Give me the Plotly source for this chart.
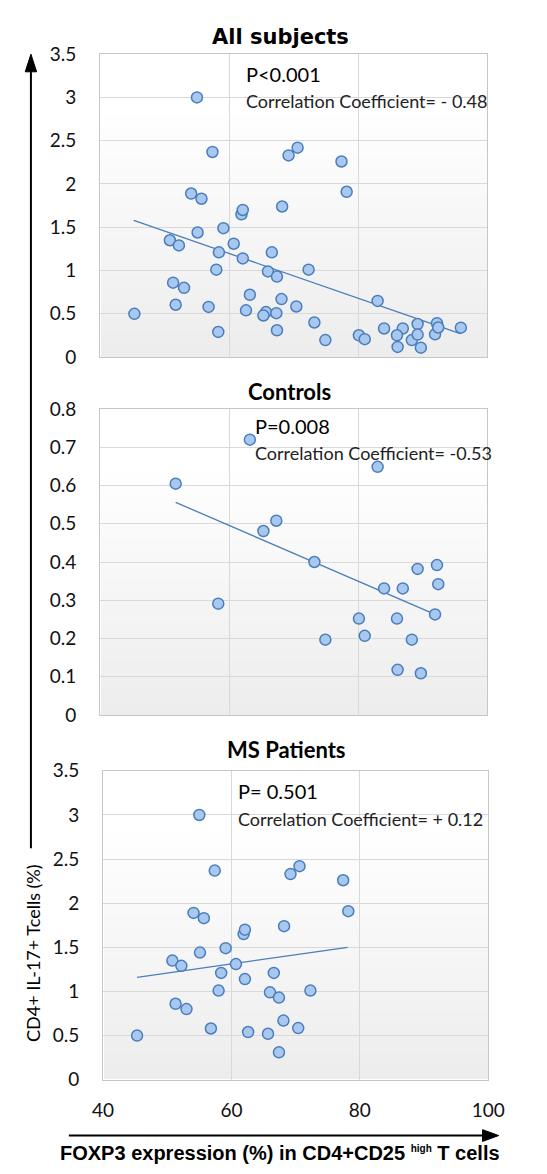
import plotly.graph_objects as go

W, H = 547, 1174

# ---------------- data ----------------
ms_x = [45.3, 55.0, 57.4, 54.1, 55.7, 55.1, 50.8, 52.2, 59.1, 58.4, 58.0, 51.3, 53.0, 56.8,
        60.7, 61.9, 62.1, 62.1, 62.6, 65.7, 66.0, 66.6, 67.4, 67.4, 68.1, 68.2, 69.2, 70.6,
        70.4, 72.3, 77.4, 78.2]
ms_y = [0.50, 3.00, 2.37, 1.89, 1.83, 1.44, 1.35, 1.29, 1.49, 1.21, 1.01, 0.86, 0.80, 0.58,
        1.31, 1.65, 1.70, 1.14, 0.54, 0.52, 0.99, 1.21, 0.93, 0.31, 0.67, 1.74, 2.33, 2.42,
        0.585, 1.01, 2.26, 1.91]

ctrl_x = [51.7, 58.3, 63.2, 65.3, 67.3, 73.2, 74.9, 80.1, 81.0, 83.0, 84.0, 86.9, 86.0, 86.1,
          89.2, 88.3, 89.7, 91.9, 92.2, 92.4]
ctrl_y = [0.605, 0.291, 0.72, 0.481, 0.508, 0.40, 0.197, 0.252, 0.207, 0.649, 0.331, 0.331,
          0.252, 0.118, 0.382, 0.197, 0.109, 0.263, 0.392, 0.342]

# points visible only in the "All subjects" panel
extra_x = [89.2, 95.9]
extra_y = [0.26, 0.34]

all_x = ms_x + ctrl_x + extra_x
all_y = ms_y + ctrl_y + extra_y

# trend lines (end points)
trend_all_x = [45.2, 95.8]
trend_all_y = [1.58, 0.27]
trend_ctrl_x = [51.7, 91.9]
trend_ctrl_y = [0.556, 0.263]
trend_ms_x = [45.3, 78.1]
trend_ms_y = [1.16, 1.50]

titles = ["All subjects", "Controls", "MS Patients"]
p_texts = ["P<0.001", "P=0.008", "P= 0.501"]
r_texts = ["Correlation Coefficient= - 0.48", "Correlation Coefficient= -0.53",
           "Correlation Coefficient= + 0.12"]
x_ticks = [40, 60, 80, 100]
y_title = "CD4+ IL-17+ Tcells (%)"
x_title = ("FOXP3 expression (%) in CD4+CD25 "
           "<sup><span style='font-size:10px'>high</span></sup> T cells")

# ---------------- styling ----------------
FILL = "#a9c8ef"
EDGE = "#4a7ebb"
GRID = "#d9d9d9"
CAL = "Lato, 'Open Sans', sans-serif"


def px(x):
    return x / W


def py(y):
    return 1 - y / H


fig = go.Figure()

panels = [
    (all_x, all_y, trend_all_x, trend_all_y, "x", "y"),
    (ctrl_x, ctrl_y, trend_ctrl_x, trend_ctrl_y, "x2", "y2"),
    (ms_x, ms_y, trend_ms_x, trend_ms_y, "x3", "y3"),
]

for xs, ys, tx, ty, xa, ya in panels:
    fig.add_trace(go.Scatter(x=tx, y=ty, mode="lines", xaxis=xa, yaxis=ya,
                             line=dict(color=EDGE, width=1.3), hoverinfo="skip",
                             showlegend=False))
    fig.add_trace(go.Scatter(x=xs, y=ys, mode="markers", xaxis=xa, yaxis=ya,
                             marker=dict(size=11, color=FILL,
                                         line=dict(color=EDGE, width=1.5)),
                             showlegend=False))

# axis geometry (pixels)
geo = {
    "1": dict(x0=94, x1=502, y0=43, y1=352, yr=[0, 3.5], dt=0.5),
    "2": dict(x0=94, x1=502, y0=405, y1=717, yr=[0, 0.8], dt=0.1),
    "3": dict(x0=97, x1=503, y0=774, y1=1089, yr=[0, 3.5], dt=0.5),
}

layout = dict(width=W, height=H, margin=dict(l=0, r=0, t=0, b=0), autosize=False,
              paper_bgcolor="white", plot_bgcolor="white", showlegend=False)

tickfont = dict(family=CAL, size=19, color="#111111")
for k, g in geo.items():
    sx = "" if k == "1" else k
    layout["xaxis" + sx] = dict(
        domain=[px(g["x0"]), px(g["x1"])], range=[40, 100], tickvals=x_ticks,
        showgrid=True, gridcolor=GRID, gridwidth=1, zeroline=False,
        showline=True, linecolor="#c6c6c6", linewidth=1, mirror=True,
        ticks="", showticklabels=(k == "3"), tickfont=tickfont,
        ticklabelstandoff=14, anchor="y" + sx, fixedrange=True)
    layout["yaxis" + sx] = dict(
        domain=[py(g["y1"]), py(g["y0"])], range=g["yr"], dtick=g["dt"], tick0=0,
        showgrid=True, gridcolor=GRID, gridwidth=1, zeroline=False,
        showline=True, linecolor="#c6c6c6", linewidth=1, mirror=True,
        ticks="", tickfont=tickfont, ticklabelstandoff=19, anchor="x" + sx,
        fixedrange=True)

fig.update_layout(**layout)

# soft vertical gradient in each plot area
shapes = []
for k in ["", "2", "3"]:
    n = 18
    for i in range(1, n + 1):
        shapes.append(dict(type="rect", xref=f"x{k} domain", yref=f"y{k} domain",
                           x0=0, x1=1, y0=0, y1=0.8 * i / n, layer="below",
                           line=dict(width=0), fillcolor="rgba(0,0,0,0.0038)"))

# axis arrows (decoration, in paper coordinates)
shapes.append(dict(type="line", xref="paper", yref="paper", x0=px(21), x1=px(21),
                   y0=py(853), y1=py(58), line=dict(color="#000", width=2)))
shapes.append(dict(type="path", xref="paper", yref="paper",
                   path=f"M {px(21)} {py(43)} L {px(15)} {py(61)} L {px(27)} {py(61)} Z",
                   fillcolor="#000", line=dict(color="#000", width=1)))
shapes.append(dict(type="line", xref="paper", yref="paper", x0=px(61), x1=px(500),
                   y0=py(1146), y1=py(1146), line=dict(color="#000", width=2)))
shapes.append(dict(type="path", xref="paper", yref="paper",
                   path=f"M {px(514)} {py(1146)} L {px(497)} {py(1140)} L {px(497)} {py(1152)} Z",
                   fillcolor="#000", line=dict(color="#000", width=1)))
fig.update_layout(shapes=shapes)

ann = []
# panel titles
ann.append(dict(text="<b>" + titles[0] + "</b>", x=px(284), y=py(25), xref="paper",
                yref="paper", showarrow=False, xanchor="center", yanchor="middle",
                font=dict(family="DejaVu Sans", size=21, color="#000")))
ann.append(dict(text="<b>" + titles[1] + "</b>", x=px(293), y=py(387), xref="paper",
                yref="paper", showarrow=False, xanchor="center", yanchor="middle",
                font=dict(family=CAL, size=22, color="#000")))
ann.append(dict(text="<b>" + titles[2] + "</b>", x=px(290), y=py(752), xref="paper",
                yref="paper", showarrow=False, xanchor="center", yanchor="middle",
                font=dict(family=CAL, size=22, color="#000")))

p_pos = [(246, 63, 91), (255, 422, 450), (237, 795, 823)]
for (lx, yp, yr), pt, rt in zip(p_pos, p_texts, r_texts):
    ann.append(dict(text=pt, x=px(lx), y=py(yp), xref="paper", yref="paper",
                    showarrow=False, xanchor="left", yanchor="middle",
                    font=dict(family=CAL, size=20, color="#000")))
    ann.append(dict(text=rt, x=px(lx), y=py(yr), xref="paper", yref="paper",
                    showarrow=False, xanchor="left", yanchor="middle",
                    font=dict(family=CAL, size=18, color="#222")))

# y title (rotated)
ann.append(dict(text=y_title, x=px(23), y=py(960), xref="paper", yref="paper",
                showarrow=False, textangle=-90, xanchor="center", yanchor="middle",
                font=dict(family=CAL, size=18, color="#000")))
# x title
ann.append(dict(text="<b>" + x_title + "</b>", x=px(284), y=py(1164), xref="paper",
                yref="paper", showarrow=False, xanchor="center", yanchor="middle",
                font=dict(family="Liberation Sans, Arial", size=20, color="#000")))

fig.update_layout(annotations=ann)

fig.write_html("out.html", config={"displayModeBar": False},
               post_script="document.body.style.margin='0';")
